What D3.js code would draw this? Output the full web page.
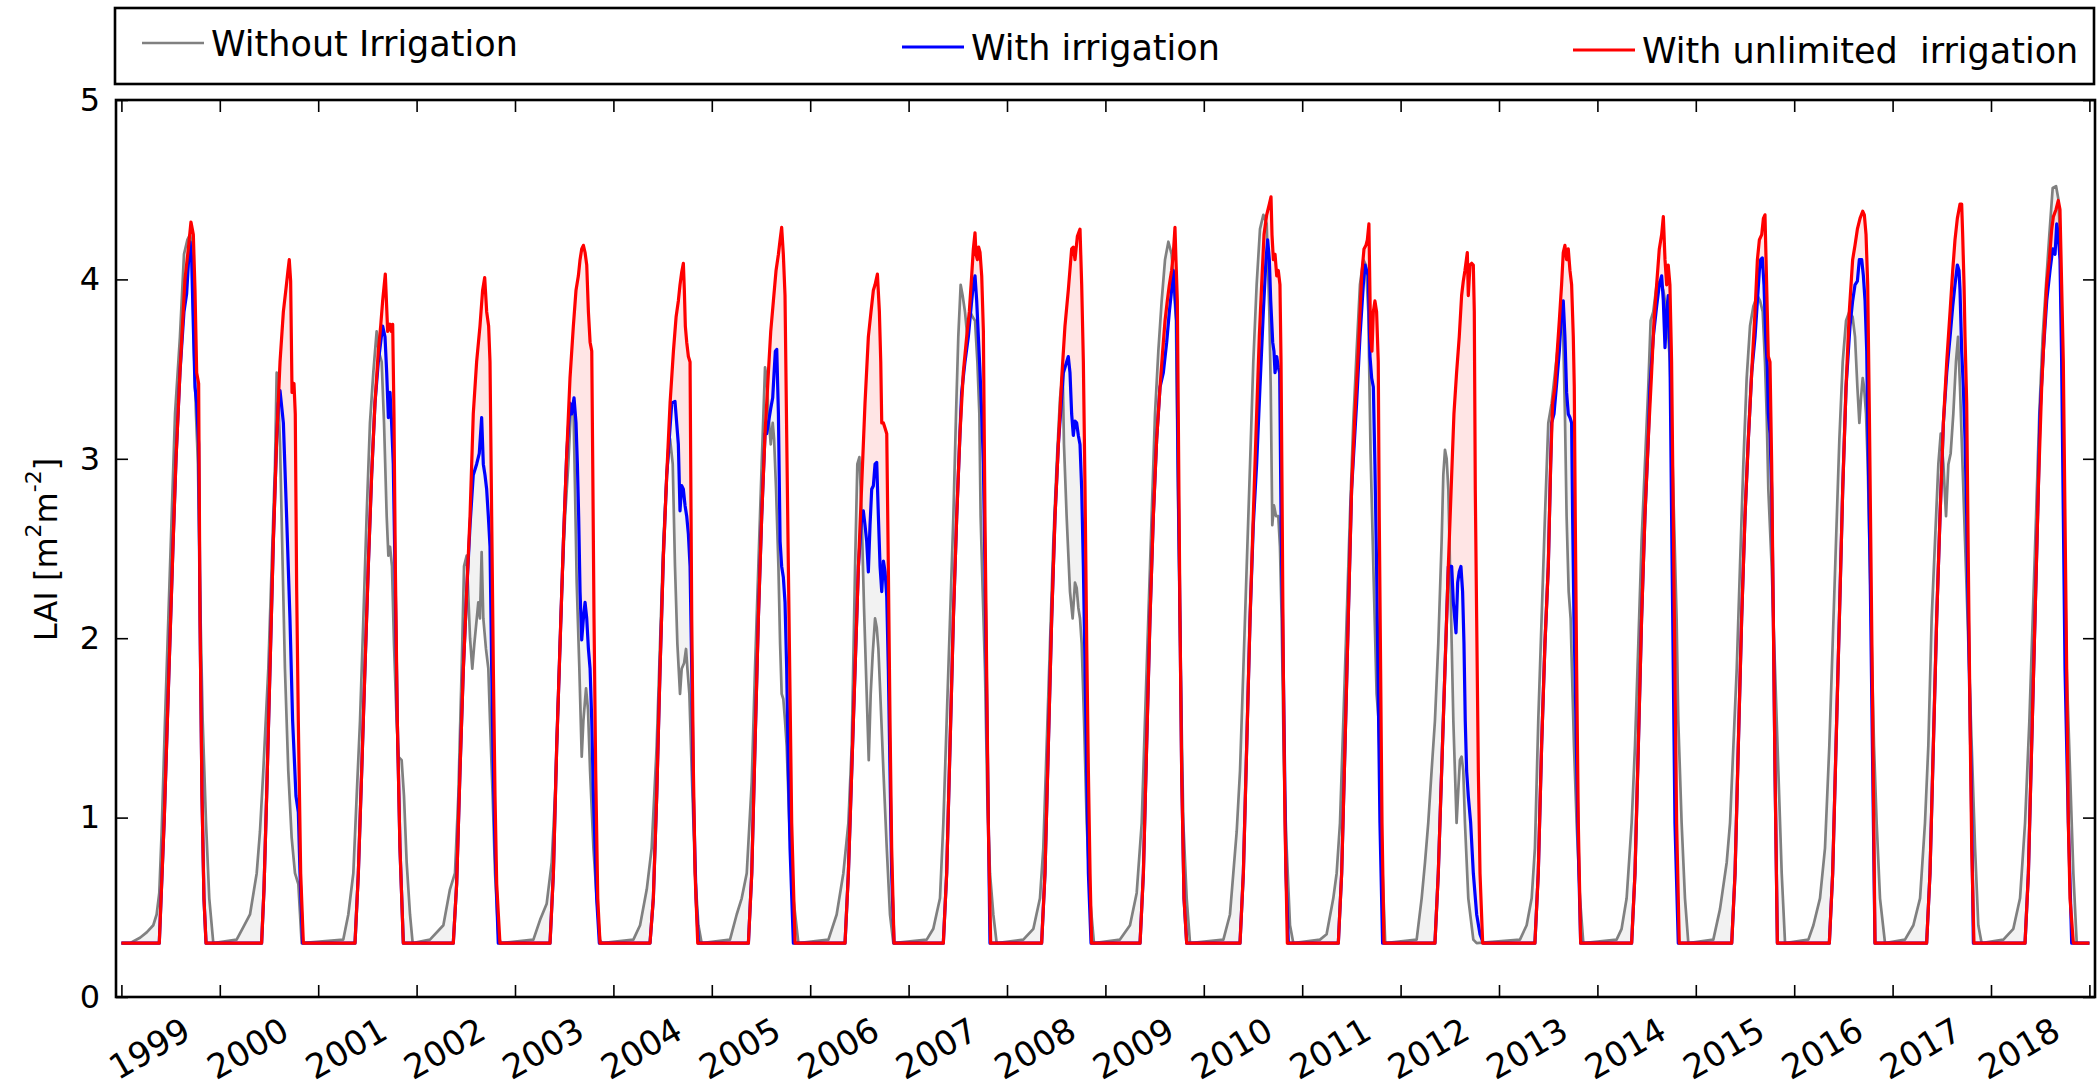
<!DOCTYPE html>
<html>
<head>
<meta charset="utf-8">
<script src="https://cdn.jsdelivr.net/npm/d3@7"></script>
<style>
  body { margin: 0; background: #fff; }
  svg { display: block; }
  text { font-family: "DejaVu Sans", sans-serif; fill: #000; }
</style>
</head>
<body>
<svg id="chart" width="2098" height="1087"></svg>
<script>
// ---- chart data ---------------------------------------------------------
const years = [1999, 2000, 2001, 2002, 2003, 2004, 2005, 2006, 2007, 2008,
               2009, 2010, 2011, 2012, 2013, 2014, 2015, 2016, 2017, 2018];
const yTicks = [0, 1, 2, 3, 4, 5];
const seriesNames = ["Without Irrigation", "With irrigation", "With unlimited  irrigation"];

// LAI [m2 m-2] against decimal year
const unlimitedIrrigation = [
  [1999.000,0.30],
  [1999.385,0.30],[1999.409,0.63],[1999.436,1.00],[1999.467,1.54],[1999.494,2.00],[1999.524,2.51],[1999.555,3.00],[1999.595,3.48],[1999.646,4.00],[1999.680,4.17],[1999.707,4.32],[1999.731,4.25],[1999.748,3.94],[1999.765,3.48],[1999.785,3.42],[1999.799,2.11],[1999.819,1.12],[1999.839,0.55],[1999.860,0.30],
  [2000.425,0.30],[2000.449,0.60],[2000.476,1.12],[2000.510,1.83],[2000.544,2.54],[2000.578,3.11],[2000.612,3.54],[2000.646,3.82],[2000.673,3.95],[2000.693,4.05],[2000.706,4.11],[2000.720,3.99],[2000.734,3.37],[2000.754,3.42],[2000.767,3.25],[2000.781,2.28],[2000.798,1.54],[2000.822,0.69],[2000.849,0.30],
  [2001.374,0.30],[2001.408,0.69],[2001.442,1.26],[2001.475,1.83],[2001.509,2.40],[2001.543,2.91],[2001.577,3.31],[2001.611,3.60],[2001.635,3.74],[2001.655,3.88],[2001.682,4.03],[2001.706,3.71],[2001.730,3.75],[2001.743,3.71],[2001.757,3.75],[2001.770,3.25],[2001.784,2.40],[2001.804,1.54],[2001.831,0.83],[2001.865,0.30],
  [2002.373,0.30],[2002.407,0.63],[2002.441,1.26],[2002.475,1.83],[2002.509,2.26],[2002.543,2.68],[2002.576,3.25],[2002.610,3.54],[2002.644,3.74],[2002.671,3.94],[2002.692,4.01],[2002.712,3.82],[2002.732,3.74],[2002.746,3.54],[2002.763,2.68],[2002.780,1.83],[2002.797,1.12],[2002.814,0.63],[2002.847,0.30],
  [2003.356,0.30],[2003.390,0.69],[2003.424,1.40],[2003.458,1.97],[2003.492,2.54],[2003.526,3.03],[2003.559,3.45],[2003.593,3.74],[2003.620,3.94],[2003.644,4.02],[2003.661,4.11],[2003.678,4.17],[2003.695,4.19],[2003.712,4.15],[2003.729,4.08],[2003.746,3.82],[2003.763,3.65],[2003.780,3.60],[2003.790,2.97],[2003.803,2.11],[2003.820,1.26],[2003.841,0.55],[2003.864,0.30],
  [2004.372,0.30],[2004.406,0.55],[2004.440,1.12],[2004.474,1.83],[2004.508,2.46],[2004.542,2.91],[2004.576,3.31],[2004.610,3.60],[2004.637,3.79],[2004.660,3.88],[2004.677,3.97],[2004.694,4.04],[2004.711,4.09],[2004.721,3.94],[2004.731,3.74],[2004.745,3.65],[2004.762,3.57],[2004.779,3.54],[2004.796,2.11],[2004.813,1.26],[2004.830,0.69],[2004.857,0.30],
  [2005.372,0.30],[2005.406,0.69],[2005.439,1.40],[2005.473,2.11],[2005.507,2.68],[2005.541,3.14],[2005.575,3.48],[2005.599,3.71],[2005.626,3.88],[2005.653,4.05],[2005.677,4.14],[2005.694,4.22],[2005.710,4.29],[2005.727,4.14],[2005.744,3.91],[2005.761,3.14],[2005.778,2.40],[2005.795,1.69],[2005.812,0.97],[2005.846,0.30],
  [2006.354,0.30],[2006.388,0.69],[2006.422,1.26],[2006.456,1.83],[2006.490,2.40],[2006.523,2.85],[2006.557,3.31],[2006.591,3.68],[2006.618,3.82],[2006.642,3.94],[2006.659,3.97],[2006.683,4.03],[2006.703,3.82],[2006.717,3.54],[2006.727,3.20],[2006.744,3.20],[2006.761,3.17],[2006.778,3.14],[2006.794,2.40],[2006.811,1.54],[2006.828,0.83],[2006.852,0.30],
  [2007.353,0.30],[2007.387,0.69],[2007.421,1.40],[2007.455,2.11],[2007.489,2.68],[2007.522,3.14],[2007.556,3.48],[2007.590,3.68],[2007.617,3.82],[2007.641,4.02],[2007.658,4.17],[2007.675,4.26],[2007.685,4.14],[2007.699,4.11],[2007.712,4.18],[2007.726,4.15],[2007.743,4.02],[2007.760,3.71],[2007.776,2.68],[2007.793,1.83],[2007.810,0.97],[2007.834,0.30],
  [2008.352,0.30],[2008.386,0.69],[2008.420,1.40],[2008.454,2.11],[2008.488,2.68],[2008.522,3.08],[2008.556,3.45],[2008.589,3.74],[2008.623,3.94],[2008.657,4.17],[2008.674,4.18],[2008.691,4.11],[2008.715,4.24],[2008.742,4.28],[2008.759,3.97],[2008.776,3.54],[2008.793,2.83],[2008.810,1.97],[2008.827,1.26],[2008.844,0.69],[2008.860,0.30],
  [2009.352,0.30],[2009.386,0.69],[2009.419,1.40],[2009.453,2.11],[2009.487,2.68],[2009.521,3.11],[2009.555,3.40],[2009.582,3.60],[2009.606,3.77],[2009.629,3.88],[2009.650,3.97],[2009.673,4.05],[2009.690,4.14],[2009.707,4.29],[2009.717,4.11],[2009.731,3.88],[2009.745,2.97],[2009.758,2.11],[2009.775,1.26],[2009.799,0.55],[2009.826,0.30],
  [2010.368,0.30],[2010.402,0.69],[2010.436,1.40],[2010.470,2.11],[2010.503,2.68],[2010.537,3.25],[2010.564,3.68],[2010.588,3.97],[2010.612,4.25],[2010.639,4.36],[2010.666,4.42],[2010.683,4.46],[2010.693,4.25],[2010.707,4.11],[2010.724,4.14],[2010.741,4.02],[2010.757,4.05],[2010.774,3.97],[2010.785,3.54],[2010.795,2.83],[2010.808,1.83],[2010.825,0.97],[2010.849,0.30],
  [2011.367,0.30],[2011.401,0.69],[2011.435,1.40],[2011.468,2.11],[2011.502,2.83],[2011.536,3.25],[2011.570,3.60],[2011.604,4.02],[2011.628,4.17],[2011.648,4.19],[2011.662,4.22],[2011.678,4.31],[2011.695,3.68],[2011.709,3.60],[2011.723,3.82],[2011.739,3.88],[2011.756,3.82],[2011.773,3.54],[2011.783,2.68],[2011.797,1.83],[2011.811,0.97],[2011.831,0.30],
  [2012.349,0.30],[2012.383,0.69],[2012.417,1.26],[2012.451,1.83],[2012.485,2.40],[2012.519,2.91],[2012.542,3.25],[2012.569,3.48],[2012.596,3.68],[2012.620,3.91],[2012.637,3.99],[2012.654,4.05],[2012.678,4.15],[2012.688,3.91],[2012.705,4.08],[2012.722,4.09],[2012.739,4.08],[2012.749,3.82],[2012.759,2.83],[2012.773,2.11],[2012.790,1.26],[2012.807,0.69],[2012.834,0.30],
  [2013.365,0.30],[2013.399,0.69],[2013.433,1.40],[2013.467,1.97],[2013.501,2.40],[2013.525,2.97],[2013.545,3.31],[2013.569,3.40],[2013.592,3.60],[2013.613,3.77],[2013.636,3.97],[2013.653,4.15],[2013.670,4.19],[2013.687,4.11],[2013.704,4.17],[2013.721,4.05],[2013.738,3.97],[2013.755,3.68],[2013.765,3.40],[2013.775,2.68],[2013.789,1.83],[2013.806,0.97],[2013.830,0.30],
  [2014.348,0.30],[2014.382,0.69],[2014.416,1.40],[2014.449,2.11],[2014.483,2.68],[2014.517,3.11],[2014.551,3.48],[2014.575,3.77],[2014.602,3.97],[2014.629,4.17],[2014.653,4.25],[2014.670,4.35],[2014.687,4.11],[2014.704,3.97],[2014.720,4.08],[2014.737,3.97],[2014.754,3.54],[2014.771,2.68],[2014.788,1.83],[2014.805,0.97],[2014.832,0.30],
  [2015.365,0.30],[2015.399,0.69],[2015.432,1.40],[2015.466,2.11],[2015.500,2.68],[2015.534,3.11],[2015.568,3.48],[2015.602,3.82],[2015.626,4.11],[2015.646,4.22],[2015.670,4.25],[2015.687,4.34],[2015.703,4.36],[2015.720,3.97],[2015.737,3.57],[2015.754,3.54],[2015.771,2.97],[2015.788,2.11],[2015.805,1.26],[2015.829,0.30],
  [2016.357,0.30],[2016.391,0.69],[2016.425,1.40],[2016.459,2.11],[2016.493,2.83],[2016.527,3.40],[2016.560,3.82],[2016.594,4.11],[2016.618,4.19],[2016.642,4.28],[2016.669,4.34],[2016.696,4.38],[2016.713,4.36],[2016.730,4.25],[2016.747,3.97],[2016.764,3.25],[2016.781,2.40],[2016.798,1.54],[2016.821,0.30],
  [2017.346,0.30],[2017.380,0.69],[2017.414,1.40],[2017.448,2.11],[2017.482,2.68],[2017.516,3.20],[2017.550,3.54],[2017.584,3.82],[2017.611,4.05],[2017.634,4.22],[2017.658,4.34],[2017.685,4.42],[2017.702,4.42],[2017.712,4.25],[2017.726,3.97],[2017.736,3.68],[2017.753,3.31],[2017.770,2.40],[2017.787,1.54],[2017.804,0.83],[2017.827,0.30],
  [2018.346,0.30],[2018.380,0.69],[2018.413,1.40],[2018.447,2.11],[2018.481,2.83],[2018.515,3.40],[2018.539,3.68],[2018.566,3.97],[2018.593,4.11],[2018.617,4.28],[2018.634,4.35],[2018.661,4.39],[2018.684,4.44],[2018.701,4.39],[2018.718,3.97],[2018.735,3.54],[2018.752,2.68],[2018.769,1.83],[2018.786,0.97],[2018.803,0.55],[2018.837,0.30],
  [2019.000,0.30]
];

const withIrrigation = [
  [1999.000,0.30],
  [1999.385,0.30],[1999.409,0.63],[1999.436,1.00],[1999.467,1.54],[1999.494,2.00],[1999.524,2.51],[1999.555,3.00],[1999.595,3.48],[1999.636,3.82],[1999.663,3.92],[1999.683,4.11],[1999.697,4.21],[1999.714,4.11],[1999.731,3.74],[1999.748,3.40],[1999.765,3.31],[1999.785,3.08],[1999.799,2.11],[1999.819,1.12],[1999.839,0.55],[1999.860,0.30],
  [2000.425,0.30],[2000.449,0.60],[2000.476,1.12],[2000.510,1.83],[2000.544,2.54],[2000.578,3.11],[2000.595,3.31],[2000.612,3.38],[2000.646,3.20],[2000.679,2.68],[2000.713,2.11],[2000.740,1.54],[2000.754,1.37],[2000.774,1.12],[2000.798,1.03],[2000.815,0.69],[2000.842,0.30],
  [2001.374,0.30],[2001.408,0.69],[2001.442,1.26],[2001.475,1.83],[2001.509,2.40],[2001.543,2.91],[2001.577,3.31],[2001.611,3.54],[2001.635,3.65],[2001.655,3.74],[2001.679,3.68],[2001.696,3.48],[2001.713,3.23],[2001.730,3.37],[2001.746,3.20],[2001.763,2.97],[2001.784,2.26],[2001.804,1.54],[2001.831,0.83],[2001.865,0.30],
  [2002.373,0.30],[2002.407,0.63],[2002.441,1.26],[2002.475,1.83],[2002.509,2.26],[2002.543,2.63],[2002.576,2.91],[2002.610,2.97],[2002.637,3.03],[2002.661,3.23],[2002.678,2.97],[2002.695,2.91],[2002.712,2.83],[2002.729,2.68],[2002.746,2.51],[2002.763,1.83],[2002.780,1.26],[2002.797,0.83],[2002.830,0.30],
  [2003.356,0.30],[2003.390,0.69],[2003.424,1.40],[2003.458,1.97],[2003.492,2.54],[2003.526,3.03],[2003.559,3.31],[2003.576,3.25],[2003.600,3.34],[2003.620,3.20],[2003.634,2.97],[2003.647,2.68],[2003.661,2.26],[2003.678,1.99],[2003.695,2.11],[2003.712,2.20],[2003.729,2.11],[2003.746,1.94],[2003.763,1.83],[2003.780,1.54],[2003.797,1.12],[2003.830,0.55],[2003.857,0.30],
  [2004.372,0.30],[2004.406,0.55],[2004.440,1.12],[2004.474,1.83],[2004.508,2.46],[2004.542,2.91],[2004.593,3.31],[2004.626,3.32],[2004.660,3.08],[2004.677,2.71],[2004.694,2.85],[2004.711,2.83],[2004.728,2.74],[2004.745,2.68],[2004.762,2.58],[2004.779,2.40],[2004.796,1.83],[2004.813,1.12],[2004.840,0.55],[2004.864,0.30],
  [2005.372,0.30],[2005.406,0.69],[2005.439,1.40],[2005.473,2.11],[2005.507,2.68],[2005.541,3.14],[2005.558,3.14],[2005.575,3.20],[2005.599,3.28],[2005.619,3.34],[2005.633,3.48],[2005.646,3.60],[2005.660,3.61],[2005.677,3.25],[2005.694,2.54],[2005.710,2.40],[2005.727,2.34],[2005.744,2.20],[2005.761,1.83],[2005.778,1.26],[2005.795,0.83],[2005.829,0.30],
  [2006.354,0.30],[2006.388,0.69],[2006.422,1.26],[2006.456,1.83],[2006.490,2.40],[2006.523,2.68],[2006.540,2.71],[2006.557,2.63],[2006.574,2.54],[2006.591,2.37],[2006.608,2.63],[2006.625,2.83],[2006.642,2.85],[2006.659,2.97],[2006.676,2.98],[2006.693,2.68],[2006.710,2.40],[2006.727,2.26],[2006.744,2.43],[2006.761,2.37],[2006.778,2.23],[2006.794,1.83],[2006.811,1.26],[2006.828,0.69],[2006.852,0.30],
  [2007.353,0.30],[2007.387,0.69],[2007.421,1.40],[2007.455,2.11],[2007.489,2.68],[2007.522,3.14],[2007.539,3.37],[2007.573,3.54],[2007.607,3.68],[2007.641,3.88],[2007.658,3.97],[2007.675,4.02],[2007.692,3.88],[2007.709,3.68],[2007.726,3.48],[2007.743,3.25],[2007.760,2.97],[2007.776,2.40],[2007.793,1.69],[2007.827,0.30],
  [2008.352,0.30],[2008.386,0.69],[2008.420,1.40],[2008.454,2.11],[2008.488,2.68],[2008.522,3.08],[2008.573,3.48],[2008.606,3.54],[2008.623,3.57],[2008.640,3.48],[2008.657,3.25],[2008.674,3.13],[2008.691,3.21],[2008.708,3.20],[2008.725,3.13],[2008.742,3.08],[2008.759,2.83],[2008.776,2.40],[2008.793,1.83],[2008.810,1.26],[2008.827,0.69],[2008.854,0.30],
  [2009.352,0.30],[2009.386,0.69],[2009.419,1.40],[2009.453,2.11],[2009.487,2.68],[2009.521,3.11],[2009.555,3.40],[2009.589,3.48],[2009.623,3.65],[2009.650,3.82],[2009.673,3.94],[2009.690,4.05],[2009.711,3.88],[2009.724,3.77],[2009.738,2.97],[2009.758,2.11],[2009.775,1.26],[2009.799,0.55],[2009.826,0.30],
  [2010.368,0.30],[2010.402,0.69],[2010.436,1.40],[2010.470,2.11],[2010.503,2.63],[2010.537,2.97],[2010.571,3.40],[2010.605,3.82],[2010.632,4.11],[2010.649,4.22],[2010.666,4.11],[2010.680,3.88],[2010.700,3.65],[2010.713,3.60],[2010.724,3.48],[2010.741,3.57],[2010.757,3.51],[2010.771,3.48],[2010.785,2.68],[2010.808,1.83],[2010.835,0.69],[2010.859,0.30],
  [2011.367,0.30],[2011.401,0.69],[2011.435,1.40],[2011.468,2.11],[2011.502,2.83],[2011.553,3.31],[2011.587,3.68],[2011.621,3.97],[2011.638,4.08],[2011.655,4.05],[2011.672,4.02],[2011.689,3.57],[2011.706,3.45],[2011.723,3.40],[2011.739,2.97],[2011.756,2.40],[2011.773,1.69],[2011.790,0.97],[2011.817,0.30],
  [2012.349,0.30],[2012.383,0.69],[2012.417,1.26],[2012.451,1.83],[2012.485,2.40],[2012.502,2.40],[2012.519,2.40],[2012.536,2.20],[2012.563,2.03],[2012.580,2.31],[2012.596,2.37],[2012.613,2.40],[2012.630,2.26],[2012.644,1.97],[2012.657,1.54],[2012.671,1.26],[2012.688,1.12],[2012.712,0.97],[2012.739,0.69],[2012.773,0.46],[2012.807,0.35],[2012.840,0.30],
  [2013.365,0.30],[2013.399,0.69],[2013.433,1.40],[2013.467,1.97],[2013.501,2.40],[2013.525,2.97],[2013.535,3.20],[2013.559,3.25],[2013.586,3.42],[2013.613,3.60],[2013.636,3.82],[2013.653,3.88],[2013.670,3.68],[2013.687,3.37],[2013.704,3.25],[2013.721,3.23],[2013.738,3.20],[2013.748,2.68],[2013.762,2.11],[2013.782,1.54],[2013.806,0.83],[2013.830,0.30],
  [2014.348,0.30],[2014.382,0.69],[2014.416,1.40],[2014.449,2.11],[2014.483,2.68],[2014.517,3.11],[2014.534,3.40],[2014.568,3.68],[2014.602,3.85],[2014.629,3.97],[2014.653,4.02],[2014.670,3.88],[2014.687,3.62],[2014.704,3.82],[2014.720,3.91],[2014.737,3.60],[2014.754,2.68],[2014.771,1.83],[2014.788,0.97],[2014.822,0.30],
  [2015.365,0.30],[2015.399,0.69],[2015.432,1.40],[2015.466,2.11],[2015.500,2.68],[2015.534,3.11],[2015.568,3.48],[2015.602,3.68],[2015.626,3.88],[2015.646,4.05],[2015.659,4.11],[2015.676,4.12],[2015.693,3.97],[2015.710,3.68],[2015.727,3.51],[2015.737,3.25],[2015.754,3.14],[2015.771,2.83],[2015.788,2.11],[2015.805,1.26],[2015.829,0.30],
  [2016.357,0.30],[2016.391,0.69],[2016.425,1.40],[2016.459,2.11],[2016.493,2.83],[2016.527,3.40],[2016.567,3.74],[2016.594,3.88],[2016.618,3.97],[2016.642,3.99],[2016.662,4.11],[2016.686,4.11],[2016.703,4.02],[2016.720,3.88],[2016.737,3.60],[2016.754,2.97],[2016.771,2.40],[2016.798,1.26],[2016.821,0.30],
  [2017.346,0.30],[2017.380,0.69],[2017.414,1.40],[2017.448,2.11],[2017.482,2.68],[2017.516,3.20],[2017.550,3.48],[2017.584,3.68],[2017.611,3.85],[2017.634,3.97],[2017.658,4.08],[2017.675,4.05],[2017.685,3.94],[2017.702,3.60],[2017.719,3.40],[2017.736,3.11],[2017.753,2.68],[2017.770,2.11],[2017.797,1.26],[2017.821,0.30],
  [2018.346,0.30],[2018.380,0.69],[2018.413,1.40],[2018.447,2.11],[2018.481,2.83],[2018.498,3.25],[2018.532,3.60],[2018.566,3.88],[2018.600,4.05],[2018.627,4.17],[2018.651,4.14],[2018.668,4.31],[2018.684,4.25],[2018.701,4.11],[2018.718,3.54],[2018.735,2.68],[2018.752,1.83],[2018.786,0.97],[2018.820,0.30],
  [2019.000,0.30]
];

const withoutIrrigation = [
  [1999.000,0.30],
  [1999.087,0.30],[1999.189,0.33],[1999.257,0.36],[1999.324,0.40],[1999.358,0.46],[1999.385,0.58],[1999.409,0.92],[1999.443,1.54],[1999.477,2.11],[1999.511,2.68],[1999.545,3.25],[1999.595,3.68],[1999.636,4.14],[1999.670,4.22],[1999.697,4.25],[1999.717,4.19],[1999.738,3.60],[1999.758,3.25],[1999.778,2.97],[1999.799,2.26],[1999.826,1.54],[1999.860,0.97],[1999.893,0.55],[1999.934,0.30],
  [2000.171,0.32],[2000.239,0.39],[2000.307,0.46],[2000.375,0.69],[2000.408,0.92],[2000.442,1.26],[2000.493,1.83],[2000.527,2.40],[2000.561,2.97],[2000.578,3.48],[2000.595,3.34],[2000.612,3.08],[2000.639,2.40],[2000.662,1.83],[2000.696,1.26],[2000.730,0.89],[2000.764,0.69],[2000.798,0.63],[2000.832,0.30],
  [2001.255,0.32],[2001.306,0.46],[2001.357,0.69],[2001.391,1.12],[2001.425,1.54],[2001.459,2.11],[2001.492,2.68],[2001.526,3.20],[2001.560,3.48],[2001.594,3.71],[2001.614,3.60],[2001.645,3.54],[2001.669,3.20],[2001.696,2.68],[2001.713,2.46],[2001.730,2.51],[2001.750,2.40],[2001.770,1.97],[2001.797,1.54],[2001.814,1.34],[2001.848,1.32],[2001.872,1.12],[2001.899,0.75],[2001.933,0.46],[2001.960,0.30],
  [2002.136,0.32],[2002.272,0.40],[2002.339,0.60],[2002.390,0.69],[2002.424,1.12],[2002.458,1.83],[2002.482,2.40],[2002.509,2.46],[2002.543,2.00],[2002.566,1.83],[2002.587,1.97],[2002.627,2.20],[2002.644,2.11],[2002.661,2.48],[2002.678,2.11],[2002.705,1.94],[2002.729,1.83],[2002.746,1.54],[2002.773,1.12],[2002.797,0.69],[2002.830,0.35],[2002.854,0.30],
  [2003.187,0.32],[2003.255,0.43],[2003.322,0.52],[2003.373,0.75],[2003.407,1.12],[2003.441,1.69],[2003.475,2.26],[2003.509,2.68],[2003.542,2.97],[2003.566,3.25],[2003.593,3.31],[2003.610,2.83],[2003.627,2.31],[2003.654,1.83],[2003.678,1.34],[2003.695,1.54],[2003.722,1.72],[2003.742,1.60],[2003.763,1.26],[2003.797,0.83],[2003.830,0.55],[2003.864,0.32],[2003.881,0.30],
  [2004.203,0.32],[2004.271,0.40],[2004.339,0.60],[2004.389,0.83],[2004.440,1.40],[2004.474,1.97],[2004.508,2.54],[2004.542,2.91],[2004.576,3.11],[2004.603,2.97],[2004.626,2.40],[2004.650,1.97],[2004.677,1.69],[2004.694,1.83],[2004.718,1.86],[2004.738,1.94],[2004.752,1.83],[2004.772,1.69],[2004.796,1.26],[2004.830,0.69],[2004.864,0.40],[2004.897,0.30],
  [2005.185,0.32],[2005.253,0.46],[2005.304,0.55],[2005.355,0.69],[2005.406,1.20],[2005.439,1.83],[2005.473,2.40],[2005.507,2.97],[2005.541,3.51],[2005.558,3.45],[2005.575,3.25],[2005.599,3.08],[2005.619,3.20],[2005.633,3.11],[2005.653,2.83],[2005.677,2.40],[2005.694,1.97],[2005.710,1.69],[2005.727,1.66],[2005.744,1.54],[2005.761,1.40],[2005.788,0.97],[2005.829,0.55],[2005.880,0.30],
  [2006.185,0.32],[2006.269,0.46],[2006.337,0.69],[2006.388,0.97],[2006.422,1.40],[2006.456,2.40],[2006.479,2.97],[2006.500,3.01],[2006.523,2.68],[2006.547,2.17],[2006.574,1.69],[2006.595,1.32],[2006.615,1.69],[2006.635,1.91],[2006.659,2.11],[2006.676,2.06],[2006.693,1.94],[2006.710,1.72],[2006.744,1.26],[2006.778,0.83],[2006.811,0.46],[2006.845,0.30],
  [2007.184,0.32],[2007.251,0.38],[2007.319,0.55],[2007.353,0.97],[2007.387,1.54],[2007.421,2.11],[2007.455,2.68],[2007.482,3.25],[2007.505,3.68],[2007.529,3.97],[2007.549,3.91],[2007.573,3.82],[2007.597,3.68],[2007.624,3.82],[2007.651,3.79],[2007.675,3.77],[2007.699,3.54],[2007.719,3.25],[2007.732,2.68],[2007.753,2.26],[2007.776,1.83],[2007.800,1.12],[2007.827,0.69],[2007.861,0.46],[2007.895,0.30],
  [2008.166,0.32],[2008.268,0.38],[2008.335,0.55],[2008.369,0.83],[2008.403,1.40],[2008.437,1.97],[2008.471,2.54],[2008.505,2.97],[2008.539,3.34],[2008.566,3.48],[2008.579,3.08],[2008.606,2.68],[2008.640,2.26],[2008.667,2.11],[2008.691,2.31],[2008.708,2.28],[2008.725,2.17],[2008.742,2.11],[2008.759,1.97],[2008.783,1.54],[2008.810,0.97],[2008.844,0.55],[2008.884,0.30],
  [2009.148,0.32],[2009.250,0.40],[2009.318,0.58],[2009.369,0.97],[2009.402,1.54],[2009.436,2.11],[2009.470,2.68],[2009.504,3.25],[2009.538,3.60],[2009.572,3.88],[2009.606,4.11],[2009.640,4.21],[2009.673,4.14],[2009.690,4.02],[2009.717,3.77],[2009.741,2.68],[2009.765,1.83],[2009.792,0.97],[2009.826,0.55],[2009.860,0.30],
  [2010.199,0.32],[2010.266,0.46],[2010.300,0.69],[2010.334,0.92],[2010.368,1.26],[2010.402,1.83],[2010.436,2.40],[2010.470,2.97],[2010.503,3.54],[2010.537,3.97],[2010.571,4.28],[2010.605,4.36],[2010.639,4.31],[2010.666,3.82],[2010.680,3.40],[2010.696,2.63],[2010.713,2.74],[2010.734,2.68],[2010.757,2.68],[2010.774,2.51],[2010.791,2.11],[2010.815,1.26],[2010.842,0.83],[2010.876,0.40],[2010.910,0.30],
  [2011.181,0.32],[2011.248,0.35],[2011.316,0.55],[2011.350,0.69],[2011.384,0.97],[2011.418,1.54],[2011.452,2.11],[2011.485,2.68],[2011.519,3.20],[2011.553,3.60],[2011.587,3.97],[2011.621,4.11],[2011.648,4.08],[2011.672,3.82],[2011.695,3.03],[2011.723,2.40],[2011.756,1.69],[2011.777,1.54],[2011.790,1.26],[2011.817,0.69],[2011.844,0.30],
  [2012.163,0.32],[2012.214,0.55],[2012.248,0.75],[2012.281,0.97],[2012.315,1.26],[2012.349,1.54],[2012.383,1.97],[2012.417,2.54],[2012.434,2.91],[2012.451,3.05],[2012.468,3.00],[2012.485,2.83],[2012.502,2.40],[2012.519,1.97],[2012.536,1.54],[2012.552,1.26],[2012.569,0.97],[2012.586,1.15],[2012.603,1.32],[2012.620,1.34],[2012.637,1.26],[2012.654,0.97],[2012.688,0.55],[2012.739,0.32],[2012.773,0.30],
  [2013.213,0.32],[2013.281,0.40],[2013.332,0.55],[2013.365,0.83],[2013.399,1.54],[2013.433,2.11],[2013.467,2.68],[2013.501,3.20],[2013.535,3.31],[2013.569,3.48],[2013.603,3.65],[2013.636,3.79],[2013.653,3.68],[2013.670,3.25],[2013.687,2.68],[2013.708,2.26],[2013.728,2.11],[2013.741,1.83],[2013.762,1.40],[2013.789,0.97],[2013.823,0.55],[2013.857,0.30],
  [2014.195,0.32],[2014.246,0.38],[2014.297,0.55],[2014.348,0.97],[2014.382,1.40],[2014.416,1.97],[2014.449,2.54],[2014.483,2.97],[2014.517,3.40],[2014.541,3.77],[2014.568,3.82],[2014.602,3.97],[2014.636,3.99],[2014.670,3.94],[2014.704,3.82],[2014.737,3.54],[2014.771,2.83],[2014.805,2.11],[2014.822,1.54],[2014.856,0.97],[2014.890,0.55],[2014.924,0.30],
  [2015.178,0.32],[2015.246,0.49],[2015.314,0.75],[2015.348,0.97],[2015.382,1.40],[2015.416,1.83],[2015.449,2.40],[2015.483,2.97],[2015.517,3.45],[2015.551,3.74],[2015.585,3.85],[2015.626,3.91],[2015.653,3.88],[2015.680,3.82],[2015.703,3.54],[2015.720,3.25],[2015.737,2.83],[2015.771,2.40],[2015.805,1.83],[2015.839,1.26],[2015.873,0.69],[2015.907,0.30],
  [2016.144,0.32],[2016.195,0.40],[2016.262,0.55],[2016.313,0.83],[2016.357,1.40],[2016.391,1.97],[2016.425,2.54],[2016.459,3.11],[2016.493,3.54],[2016.527,3.77],[2016.560,3.82],[2016.594,3.79],[2016.618,3.68],[2016.642,3.40],[2016.662,3.20],[2016.679,3.34],[2016.696,3.45],[2016.710,3.40],[2016.730,3.25],[2016.747,2.97],[2016.764,2.54],[2016.787,1.97],[2016.811,1.40],[2016.838,0.97],[2016.872,0.55],[2016.923,0.30],
  [2017.126,0.32],[2017.211,0.40],[2017.279,0.55],[2017.329,0.97],[2017.363,1.40],[2017.397,2.11],[2017.431,2.54],[2017.465,2.97],[2017.489,3.14],[2017.516,2.97],[2017.543,2.68],[2017.567,2.97],[2017.590,3.03],[2017.617,3.25],[2017.644,3.54],[2017.665,3.68],[2017.685,3.40],[2017.702,3.11],[2017.719,2.83],[2017.736,2.54],[2017.753,2.26],[2017.770,1.97],[2017.804,1.40],[2017.838,0.83],[2017.871,0.40],[2017.905,0.30],
  [2018.126,0.32],[2018.227,0.38],[2018.295,0.55],[2018.346,0.97],[2018.390,1.54],[2018.424,2.11],[2018.458,2.68],[2018.491,3.25],[2018.525,3.68],[2018.559,3.97],[2018.593,4.25],[2018.627,4.51],[2018.661,4.52],[2018.684,4.45],[2018.701,4.25],[2018.718,3.68],[2018.735,2.97],[2018.752,2.40],[2018.769,1.83],[2018.803,1.26],[2018.837,0.69],[2018.871,0.30],
  [2019.000,0.30]
];

// ---- layout -------------------------------------------------------------
const svg = d3.select("#chart");
const frame = { left: 116, right: 2095, top: 100, bottom: 997 };
const tickLen = 12;

const x = d3.scaleLinear().domain([1999, 2019]).range([121.4, 2089.4]);
const y = d3.scaleLinear().domain([0, 5]).range([frame.bottom, frame.top]);

const line = d3.line().x(d => x(d[0])).y(d => y(d[1]));
// closed band between two series: first one forward, second one backward
const band = (a, b) => line(a.concat(b.slice().reverse())) + "Z";

const plot = svg.append("g");

// shaded gaps between the runs
plot.append("path")
  .attr("d", band(withoutIrrigation, withIrrigation))
  .attr("fill", "rgba(128,128,128,0.10)")
  .attr("stroke", "none");
plot.append("path")
  .attr("d", band(withIrrigation, unlimitedIrrigation))
  .attr("fill", "rgba(255,0,0,0.10)")
  .attr("stroke", "none");

const lines = [
  { data: withoutIrrigation, color: "#808080", width: 2.7 },
  { data: withIrrigation, color: "#0000ff", width: 3.2 },
  { data: unlimitedIrrigation, color: "#ff0000", width: 3.2 }
];
lines.forEach(s => {
  plot.append("path")
    .attr("d", line(s.data))
    .attr("fill", "none")
    .attr("stroke", s.color)
    .attr("stroke-width", s.width)
    .attr("stroke-linejoin", "round");
});

// ---- axes ---------------------------------------------------------------
const yearTicks = years.concat([2019]);
const styleAxis = g => {
  g.select(".domain").remove();
  g.selectAll(".tick line").attr("stroke", "#000").attr("stroke-width", 1.6);
};

svg.append("g")
  .attr("transform", `translate(0,${frame.bottom})`)
  .call(d3.axisBottom(x).tickValues(yearTicks).tickSizeInner(-tickLen).tickSizeOuter(0).tickFormat(""))
  .call(styleAxis);
svg.append("g")
  .attr("transform", `translate(0,${frame.top})`)
  .call(d3.axisTop(x).tickValues(yearTicks).tickSizeInner(-tickLen).tickSizeOuter(0).tickFormat(""))
  .call(styleAxis);
svg.append("g")
  .attr("transform", `translate(${frame.left},0)`)
  .call(d3.axisLeft(y).tickValues(yTicks).tickSizeInner(-tickLen).tickSizeOuter(0).tickPadding(16).tickFormat(d3.format("d")))
  .call(styleAxis)
  .call(g => g.selectAll(".tick text")
    .attr("font-family", "DejaVu Sans, sans-serif")
    .attr("font-size", 32)
    .attr("fill", "#000"));
svg.append("g")
  .attr("transform", `translate(${frame.right},0)`)
  .call(d3.axisRight(y).tickValues(yTicks).tickSizeInner(-tickLen).tickSizeOuter(0).tickFormat(""))
  .call(styleAxis);

// plot frame
svg.append("rect")
  .attr("x", frame.left).attr("y", frame.top)
  .attr("width", frame.right - frame.left).attr("height", frame.bottom - frame.top)
  .attr("fill", "none").attr("stroke", "#000").attr("stroke-width", 2.6);

// rotated year labels, one per season
svg.append("g").selectAll("text")
  .data(years)
  .join("text")
  .attr("transform", d => `translate(${x(d + 0.5) + 10},${frame.bottom + 19}) rotate(-30)`)
  .attr("text-anchor", "end")
  .attr("dy", "0.72em")
  .attr("font-size", 34)
  .text(d => d);

// y-axis title
const yTitle = svg.append("text")
  .attr("transform", `translate(46,${(frame.top + frame.bottom) / 2 + 1}) rotate(-90)`)
  .attr("text-anchor", "middle")
  .attr("dominant-baseline", "central")
  .attr("font-size", 32);
yTitle.append("tspan").text("LAI [m");
yTitle.append("tspan").attr("font-size", 22).attr("baseline-shift", "super").text("2");
yTitle.append("tspan").text("m");
yTitle.append("tspan").attr("font-size", 22).attr("baseline-shift", "super").text("-2");
yTitle.append("tspan").text("]");

// ---- legend -------------------------------------------------------------
svg.append("rect")
  .attr("x", 115).attr("y", 8).attr("width", 1979).attr("height", 76)
  .attr("fill", "#fff").attr("stroke", "#000").attr("stroke-width", 2.6);

const legendItems = [
  { name: seriesNames[0], color: "#808080", width: 2.7, x0: 142, cy: 43 },
  { name: seriesNames[1], color: "#0000ff", width: 3.2, x0: 902, cy: 47 },
  { name: seriesNames[2], color: "#ff0000", width: 3.2, x0: 1573, cy: 50 }
];
const leg = svg.append("g").selectAll("g").data(legendItems).join("g");
leg.append("line")
  .attr("x1", d => d.x0).attr("x2", d => d.x0 + 62)
  .attr("y1", d => d.cy).attr("y2", d => d.cy)
  .attr("stroke", d => d.color).attr("stroke-width", d => d.width);
leg.append("text")
  .attr("x", d => d.x0 + 69)
  .attr("y", d => d.cy + 12.5)
  .attr("font-size", 35)
  .style("white-space", "pre")
  .text(d => d.name);
</script>
</body>
</html>
